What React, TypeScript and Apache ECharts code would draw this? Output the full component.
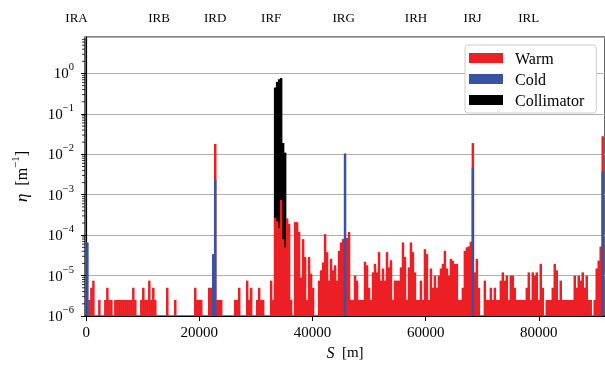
import React, { useEffect, useRef } from 'react';
import * as echarts from 'echarts';

// Histogram bin width along the ring [m]; bin i covers [i*BIN_WIDTH, (i+1)*BIN_WIDTH]
const BIN_WIDTH = 353;

// Warm losses per bin (eta, m^-1), 0 = empty bin
const warm = [
  0, 2.5e-6, 5e-6, 7.5e-6, 0, 0, 2.5e-6, 0, 0, 2.5e-6, 5e-6, 2.5e-6, 2.5e-6, 0, 2.5e-6, 2.5e-6, 2.5e-6, 2.5e-6, 2.5e-6, 2.5e-6,
  2.5e-6, 2.5e-6, 2.5e-6, 5e-6, 2.5e-6, 0, 0, 2.5e-6, 5e-6, 2.5e-6, 2.5e-6, 7.5e-6, 2.5e-6, 5e-6, 2.5e-6, 0, 0, 0, 0, 0,
  5e-6, 0, 0, 0, 2.5e-6, 0, 0, 0, 0, 0, 0, 0, 0, 0, 5e-6, 2.5e-6, 2.5e-6, 2.5e-6, 0, 0,
  0, 5e-6, 5e-6, 5e-6, 1.8e-2, 2.5e-6, 2.5e-6, 2.5e-6, 0, 0, 0, 0, 0, 0, 2.5e-6, 2.5e-6, 5e-6, 0, 0, 0,
  7.5e-6, 2.5e-6, 5e-6, 0, 0, 2.5e-6, 5e-6, 2.5e-6, 2.5e-6, 0, 0, 0, 7.5e-6, 2.5e-6, 2.7e-4, 2.2e-4, 1.5e-4, 7.5e-4, 8e-5, 5e-5,
  2.6e-4, 1.9e-4, 2.5e-6, 0, 2.1e-4, 2.1e-4, 1.2e-4, 9e-6, 8e-5, 2.9e-5, 2.5e-6, 2.9e-5, 1.1e-5, 5e-6, 0, 0, 7.5e-6, 1.35e-5, 2.1e-5, 1.06e-4,
  3.8e-5, 7.5e-6, 2.6e-5, 1.35e-5, 1.8e-5, 7.5e-6, 4.1e-5, 6.6e-5, 8e-5, 8.5e-5, 8.5e-5, 1.2e-4, 2.5e-6, 2.5e-6, 1e-5, 7.5e-6, 2.5e-6, 2.5e-6, 2.5e-6, 2.2e-5,
  1.8e-5, 5e-6, 2.5e-6, 1.2e-5, 1.95e-5, 1.2e-5, 3.8e-5, 7.5e-6, 1.5e-5, 7.5e-6, 3.8e-5, 1.6e-5, 2.4e-5, 2.5e-6, 7.5e-6, 7.5e-6, 7.5e-6, 1.6e-5, 6.6e-5, 2.9e-5,
  2.5e-6, 1.6e-5, 6.6e-5, 3.8e-5, 1.2e-5, 2.5e-6, 2.5e-6, 7.5e-6, 2.5e-6, 4.5e-5, 3.4e-5, 2.5e-6, 1.5e-5, 5e-6, 1e-5, 5e-6, 1e-5, 1.5e-5, 1.95e-5, 4.1e-5,
  1.5e-5, 1e-5, 2.6e-5, 2.35e-5, 1.95e-5, 1.95e-5, 2.5e-6, 2.5e-6, 5e-6, 4.1e-5, 5e-5, 5.3e-5, 6.9e-5, 1.9e-2, 1.2e-5, 2.6e-5, 5e-6, 0, 0, 7.5e-6,
  2.5e-6, 2.5e-6, 5e-6, 2.5e-6, 5e-6, 2.5e-6, 2.5e-6, 7.5e-6, 1.2e-5, 7.5e-6, 1e-5, 2.5e-6, 1e-5, 1e-5, 5e-6, 2.5e-6, 2.5e-6, 2.5e-6, 2.5e-6, 2.5e-6,
  5e-6, 1.2e-5, 2.5e-6, 1.2e-5, 1e-5, 1.2e-5, 2.5e-6, 1.95e-5, 5e-6, 0, 2.5e-6, 2.5e-6, 2.5e-6, 5e-6, 1.95e-5, 1.35e-5, 2.5e-6, 7.5e-6, 2.5e-6, 2.5e-6,
  2.5e-6, 2.5e-6, 2.5e-6, 2.5e-6, 1e-5, 5e-6, 1e-5, 7.5e-6, 1.2e-5, 5e-6, 1e-5, 2.5e-6, 2.5e-6, 0, 2.5e-6, 1.5e-5, 2.35e-5, 5.2e-5, 2.8e-2,
];

// Cold losses: bin index and value
const coldBins = [0, 63, 64, 129, 193, 258];
const cold = [6.6e-5, 3.4e-5, 2.4e-3, 1.05e-2, 4.7e-3, 3.8e-3];

// Collimator losses: bin index and value
const collBins = [94, 95, 96, 97, 98, 99];
const collimator = [0.45, 0.62, 0.72, 0.77, 0.019, 0.011];

// Interaction-region labels and positions [m]
const irNames = ['IRA', 'IRB', 'IRD', 'IRF', 'IRG', 'IRH', 'IRJ', 'IRL'];
const irPos = [-1700, 12900, 22800, 32700, 45500, 58300, 68300, 78200];

const xTicks = [0, 20000, 40000, 60000, 80000];

const X_MIN = -200;
const X_MAX = 91700;
const Y_MIN = 1e-6;
const Y_MAX = 8;

const FONT = "'Liberation Serif', 'DejaVu Serif', serif";
const RED = '#ec2024';
const BLUE = '#3953a4';

function pow10Label(v: number): string {
  const l = Math.log10(v);
  const e = Math.round(l);
  if (Math.abs(l - e) > 0.01) return '';
  return `{b|10}{s|${e < 0 ? '\u2212' + -e : e}}`;
}

export default function App() {
  const ref = useRef<HTMLDivElement>(null);

  useEffect(() => {
    const chart = echarts.init(ref.current!, null, { renderer: 'svg' });

    const barItem = (params: any, api: any) => {
      const s = api.value(0);
      const v = api.value(1);
      const p0 = api.coord([s, v]);
      const p1 = api.coord([s + BIN_WIDTH, Y_MIN]);
      return {
        type: 'rect',
        shape: { x: p0[0], y: p0[1], width: p1[0] - p0[0] + 0.5, height: p1[1] - p0[1] },
        style: { fill: api.visual('color') },
      };
    };

    const warmData: number[][] = [];
    warm.forEach((v, i) => {
      if (v > 0) warmData.push([i * BIN_WIDTH, v]);
    });
    const coldData = coldBins.map((b, i) => [b * BIN_WIDTH, cold[i]]);
    const collData = collBins.map((b, i) => [b * BIN_WIDTH, collimator[i]]);

    // minor log ticks
    const minorVals: number[][] = [];
    for (let e = -6; e <= 0; e++) {
      for (let k = 2; k <= 9; k++) {
        const v = k * Math.pow(10, e);
        if (v < Y_MAX) minorVals.push([X_MIN, v]);
      }
    }

    chart.setOption({
      animation: false,
      textStyle: { fontFamily: FONT },
      grid: {
        left: 85,
        top: 37,
        right: -1,
        bottom: 47,
        show: true,
        borderColor: '#000',
        borderWidth: 1.2,
        backgroundColor: 'transparent',
      },
      legend: {
        data: ['Warm', 'Cold', 'Collimator'],
        orient: 'vertical',
        left: 465,
        top: 45,
        icon: 'rect',
        itemWidth: 34,
        itemHeight: 10,
        itemGap: 5,
        padding: [5, 12, 5, 4],
        backgroundColor: '#fff',
        borderColor: '#cccccc',
        borderWidth: 1,
        borderRadius: 3,
        textStyle: { fontFamily: FONT, fontSize: 16, color: '#000', padding: [0, 0, 0, 7] },
      },
      xAxis: {
        type: 'value',
        min: X_MIN,
        max: X_MAX,
        name: '{i|S}{b|  [m]}',
        nameLocation: 'middle',
        nameGap: 28,
        nameTextStyle: {
          rich: {
            i: { fontFamily: FONT, fontSize: 16, fontStyle: 'italic', color: '#000' },
            b: { fontFamily: FONT, fontSize: 15, color: '#000' },
          },
        },
        axisLine: { show: true, lineStyle: { color: '#000', width: 1.2 } },
        axisTick: { show: true, customValues: xTicks, length: 5, lineStyle: { color: '#000', width: 1 } },
        axisLabel: {
          customValues: xTicks,
          fontFamily: FONT,
          fontSize: 15,
          color: '#000',
          margin: 8,
          formatter: (v: number) => String(Math.round(v)),
        },
        splitLine: { show: false },
      },
      yAxis: {
        type: 'log',
        logBase: 10,
        min: Y_MIN,
        max: Y_MAX,
        name: '{e|\u03b7}{b|  [m}{s|\u22121}{b|]}',
        nameLocation: 'middle',
        nameRotate: 90,
        nameGap: 52,
        nameTextStyle: {
          rich: {
            e: { fontFamily: FONT, fontSize: 17, fontStyle: 'italic', color: '#000', lineHeight: 24 },
            b: { fontFamily: FONT, fontSize: 16, color: '#000', lineHeight: 24 },
            s: { fontFamily: FONT, fontSize: 11, color: '#000', verticalAlign: 'top', lineHeight: 12 },
          },
        },
        axisLine: { show: true, lineStyle: { color: '#000', width: 1.2 } },
        axisTick: { show: true, length: 5, lineStyle: { color: '#000', width: 1 } },
        axisLabel: {
          showMaxLabel: false,
          margin: 11,
          formatter: (v: number) => pow10Label(v),
          rich: {
            b: { fontFamily: FONT, fontSize: 15, color: '#000', lineHeight: 24 },
            s: { fontFamily: FONT, fontSize: 10.5, color: '#000', verticalAlign: 'top', lineHeight: 12 },
          },
        },
        splitLine: { show: true, lineStyle: { color: '#b0b0b0', width: 1.2 } },
      },
      series: [
        {
          name: 'Collimator',
          type: 'custom',
          renderItem: barItem,
          data: collData,
          itemStyle: { color: '#000' },
          encode: { x: 0, y: 1 },
          silent: true,
        },
        {
          name: 'Warm',
          type: 'custom',
          renderItem: barItem,
          data: warmData,
          itemStyle: { color: RED },
          encode: { x: 0, y: 1 },
          silent: true,
        },
        {
          name: 'Cold',
          type: 'custom',
          renderItem: barItem,
          data: coldData,
          itemStyle: { color: BLUE },
          encode: { x: 0, y: 1 },
          silent: true,
        },
        {
          name: 'minor',
          type: 'custom',
          clip: false,
          silent: true,
          encode: { x: 0, y: 1 },
          data: minorVals,
          renderItem: (params: any, api: any) => {
            const p = api.coord([api.value(0), api.value(1)]);
            return {
              type: 'line',
              shape: { x1: p[0] - 3, y1: p[1], x2: p[0], y2: p[1] },
              style: { stroke: '#000', lineWidth: 0.8 },
            };
          },
        },
      ],
    });

    const gx = irPos.map((s) => chart.convertToPixel({ xAxisIndex: 0 }, s) as number);
    chart.setOption({
      graphic: irNames.map((n, i) => ({
        type: 'text',
        x: gx[i],
        y: 17,
        style: {
          text: n,
          fontFamily: FONT,
          fontSize: 13,
          fill: '#000',
          align: 'center',
          verticalAlign: 'middle',
        },
      })),
    });

    return () => chart.dispose();
  }, []);

  return <div ref={ref} style={{ position: 'fixed', left: 0, top: 0, width: 605, height: 365 }} />;
}
